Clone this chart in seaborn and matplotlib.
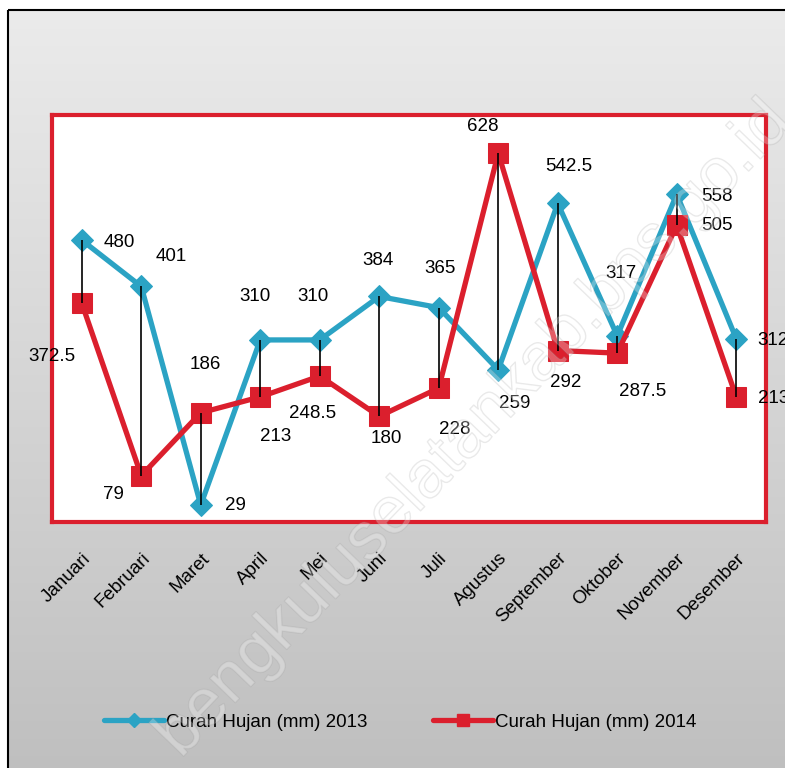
import numpy as np
import pandas as pd
import matplotlib.pyplot as plt
import matplotlib.patheffects as pe
from matplotlib.patches import Rectangle
from matplotlib.lines import Line2D
from matplotlib.colors import LinearSegmentedColormap
import seaborn as sns

# Data
months = ["Januari", "Februari", "Maret", "April", "Mei", "Juni",
          "Juli", "Agustus", "September", "Oktober", "November", "Desember"]
rain_2013 = [480, 401, 29, 310, 310, 384, 365, 259, 542.5, 317, 558, 312]
rain_2014 = [372.5, 79, 186, 213, 248.5, 180, 228, 628, 292, 287.5, 505, 213]
label_2013 = ["480", "401", "29", "310", "310", "384", "365", "259", "542.5", "317", "558", "312"]
label_2014 = ["372.5", "79", "186", "213", "248.5", "180", "228", "628", "292", "287.5", "505", "213"]
name_2013 = "Curah Hujan (mm) 2013"
name_2014 = "Curah Hujan (mm) 2014"

# label offsets in pixels (dx, dy) relative to each marker
off_2013 = [(38, -2), (30, 30), (35, -1), (-5, 43), (-7, 43), (-1, 36), (1, 39),
            (16, -34), (11, 37), (4, 62), (40, -2), (37, -2)]
off_2014 = [(-30, -53), (-28, -19), (5, 48), (15, -40), (-7, -37), (7, -22), (16, -41),
            (-15, 27), (8, -32), (25, -38), (40, 0), (37, -2)]

blue = "#2ba3c4"
red = "#db1f2d"

sns.set_style("white")
plt.rcParams['font.family'] = ['Liberation Sans', 'DejaVu Sans']

df = pd.DataFrame({"idx": np.arange(len(months)), "y2013": rain_2013, "y2014": rain_2014})

fig = plt.figure(figsize=(7.85, 7.68), dpi=100)

# gradient background with black border
bg = fig.add_axes([0, 0, 1, 1], zorder=-10)
bg.set_xlim(0, 785)
bg.set_ylim(768, 0)
bg.axis("off")
grad = np.linspace(0, 1, 256).reshape(-1, 1)
bg.imshow(grad, extent=[8, 790, 775, 10],
          cmap=LinearSegmentedColormap.from_list("g", ["#ebebeb", "#bfbfbf"]), aspect="auto", zorder=0)
bg.add_patch(Rectangle((8, 10), 800, 800, fill=False, edgecolor="black", linewidth=1.5, zorder=1))

ax = fig.add_axes([52 / 785, 1 - 522 / 768, (766 - 52) / 785, (522 - 115) / 768])
ax.set_facecolor("white")

sns.lineplot(data=df, x="idx", y="y2013", ax=ax, color=blue, linewidth=3.8,
             marker="D", markersize=11, markeredgecolor=blue, label=name_2013, legend=False)
sns.lineplot(data=df, x="idx", y="y2014", ax=ax, color=red, linewidth=3.8,
             marker="s", markersize=14, markeredgecolor=red, label=name_2014, legend=False)

# high-low lines
ax.vlines(df["idx"], df[["y2013", "y2014"]].min(axis=1), df[["y2013", "y2014"]].max(axis=1),
          color="black", linewidth=1.2, zorder=5)

for i in range(len(months)):
    ax.annotate(label_2013[i], (i, rain_2013[i]), xytext=off_2013[i], textcoords="offset pixels",
                ha="center", va="center", fontsize=13.5, color="black", annotation_clip=False)
    ax.annotate(label_2014[i], (i, rain_2014[i]), xytext=off_2014[i], textcoords="offset pixels",
                ha="center", va="center", fontsize=13.5, color="black", annotation_clip=False)

ax.set_xlim(-0.5, len(months) - 0.5)
ax.set_ylim(0, 693)
ax.set_yticks([])
ax.set_xticks(df["idx"])
ax.set_xticklabels(months, rotation=45, ha="right", rotation_mode="anchor", fontsize=13.5, color="black")
ax.tick_params(axis="x", length=0, pad=20)
ax.set_xlabel("")
ax.set_ylabel("")
for s in ax.spines.values():
    s.set_color(red)
    s.set_linewidth(3)

handles = [Line2D([0], [0], color=blue, linewidth=3.8, marker="D", markersize=7),
           Line2D([0], [0], color=red, linewidth=3.8, marker="s", markersize=8)]
leg = fig.legend(handles, [name_2013, name_2014], loc="center", bbox_to_anchor=(400 / 785, 1 - 722 / 768),
                 ncol=2, frameon=False, fontsize=13.5, handlelength=3.2, handletextpad=0.1, columnspacing=3.5)
for t in leg.get_texts():
    t.set_color("black")

# watermark
fig.text(475 / 785, 1 - 430 / 768, "bengkuluselatankab.bps.go.id", rotation=46, ha="center", va="center",
         fontsize=48, color=(1, 1, 1, 0.15), zorder=20,
         path_effects=[pe.withStroke(linewidth=1.0, foreground=(0.6, 0.6, 0.6, 0.22))])

fig.savefig("out.png", dpi=100)
